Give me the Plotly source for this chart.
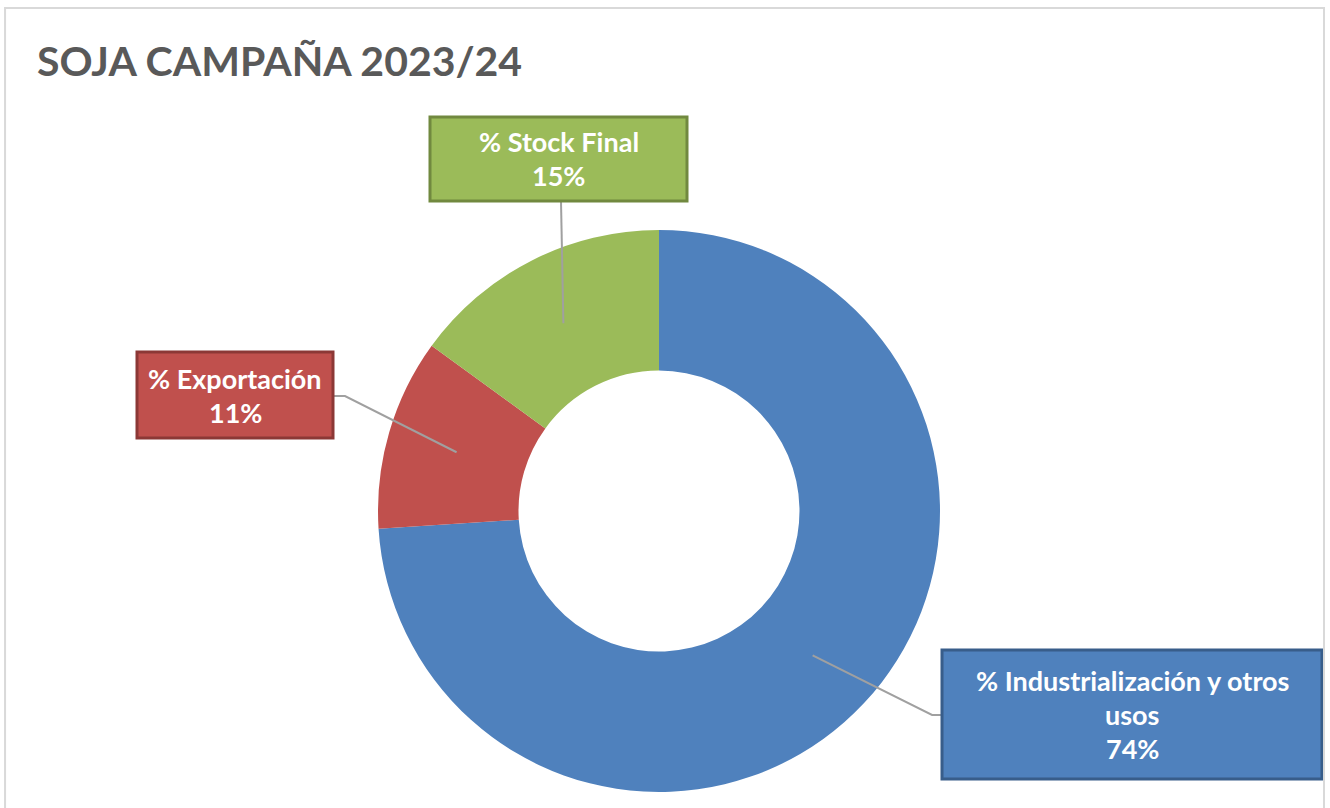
import math
import plotly.graph_objects as go

W, H = 1330, 808

# data
labels = ['% Industrialización y otros usos', '% Exportación', '% Stock Final']
values = [74, 11, 15]
colors = ['#4F81BD', '#C0504D', '#9BBB59']
border_colors = ['#385D8A', '#8C3836', '#71893F']
label_lines = [['% Industrialización y otros', 'usos', '74%'],
               ['% Exportación', '11%'],
               ['% Stock Final', '15%']]

# label boxes in px: x0, y0, x1, y1
boxes = [(942, 650, 1322, 779), (137, 352, 333, 438), (430, 117, 687, 201)]
# leader line path after the slice point (px)
leader_tail = [[(932, 715), (942, 715)],
               [(345, 396), (333, 396)],
               [(561, 201)]]

CX, CY, R = 659, 511, 281
FONT = 'Lato'


def px(x, y):
    return x / W, 1 - y / H


fig = go.Figure(go.Pie(
    labels=labels,
    values=values,
    hole=0.5,
    sort=False,
    direction='clockwise',
    rotation=0,
    marker=dict(colors=colors, line=dict(width=0)),
    textinfo='none',
    hoverinfo='label+percent',
    domain=dict(x=[(CX - R) / W, (CX + R) / W], y=[1 - (CY + R) / H, 1 - (CY - R) / H]),
    showlegend=False,
))

shapes = []
annotations = []
total = sum(values)
cum = 0
for i, v in enumerate(values):
    # leader line starts in the middle of the ring, at the slice's mid angle
    mid = (cum + v / 2) / total * 2 * math.pi
    cum += v
    r = 0.75 * R
    start = (CX + r * math.sin(mid), CY - r * math.cos(mid))
    pts = [start] + leader_tail[i]
    path = 'M ' + ' L '.join('%.4f,%.4f' % px(*p) for p in pts)
    shapes.append(dict(type='path', xref='paper', yref='paper', path=path,
                       line=dict(color='#A0A0A0', width=2), layer='above'))

    x0, y0, x1, y1 = boxes[i]
    ax0, ay0 = px(x0, y0)
    ax1, ay1 = px(x1, y1)
    shapes.append(dict(type='rect', xref='paper', yref='paper',
                       x0=ax0, y0=ay1, x1=ax1, y1=ay0,
                       fillcolor=colors[i], line=dict(color=border_colors[i], width=3),
                       layer='above'))
    n = len(label_lines[i])
    step = 34
    yc = (y0 + y1) / 2
    for j, txt in enumerate(label_lines[i]):
        ty = yc + (j - (n - 1) / 2) * step
        tx, tyy = px((x0 + x1) / 2, ty)
        annotations.append(dict(text=txt, x=tx, y=tyy, xref='paper', yref='paper',
                                showarrow=False, xanchor='center', yanchor='middle',
                                font=dict(family=FONT, size=27, color='white', weight='bold')))

# chart frame
fl, ft, fr = 5, 8, 1324
shapes.append(dict(type='path', xref='paper', yref='paper',
                   path='M %.4f,%.4f L %.4f,%.4f L %.4f,%.4f L %.4f,%.4f' % (
                       *px(fl, H + 20), *px(fl, ft), *px(fr, ft), *px(fr, H + 20)),
                   line=dict(color='#D9D9D9', width=2)))

fig.update_layout(
    width=W, height=H,
    margin=dict(l=0, r=0, t=0, b=0),
    paper_bgcolor='white',
    plot_bgcolor='white',
    title=dict(text='SOJA CAMPAÑA 2023/24', x=37 / W, xanchor='left',
               y=1 - 62 / H, yanchor='middle',
               font=dict(family=FONT, size=41, color='#595959', weight='bold')),
    shapes=shapes,
    annotations=annotations,
)

# page body has a default 8px margin, drop it so the figure fills the window
fig.write_html('out.html', config={'displayModeBar': False},
               post_script="document.body.style.margin='0';")
